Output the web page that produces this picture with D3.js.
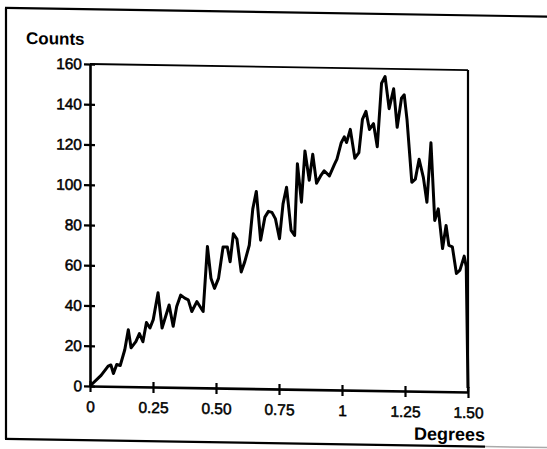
<!DOCTYPE html>
<html>
<head>
<meta charset="utf-8">
<script src="https://cdn.jsdelivr.net/npm/d3@7"></script>
<style>
  html, body { margin: 0; padding: 0; background: #fff; }
  svg { display: block; }
  text { font-family: "Liberation Sans", Arial, Helvetica, sans-serif; fill: #000; }
</style>
</head>
<body>
<svg id="chart" width="547" height="449"></svg>
<script>
// ---- data ----
const degrees = [0, 0.044, 0.072, 0.083, 0.093, 0.106, 0.12, 0.138, 0.152, 0.163, 0.182, 0.196, 0.21, 0.224, 0.238, 0.251, 0.27, 0.286, 0.3, 0.314, 0.33, 0.344, 0.36, 0.376, 0.39, 0.404, 0.424, 0.449, 0.466, 0.48, 0.494, 0.51, 0.528, 0.545, 0.556, 0.569, 0.583, 0.6, 0.614, 0.632, 0.646, 0.66, 0.677, 0.694, 0.708, 0.722, 0.736, 0.752, 0.766, 0.78, 0.798, 0.812, 0.823, 0.839, 0.853, 0.87, 0.884, 0.899, 0.915, 0.929, 0.95, 0.97, 0.98, 0.997, 1.009, 1.018, 1.033, 1.051, 1.067, 1.081, 1.095, 1.109, 1.125, 1.14, 1.157, 1.171, 1.187, 1.205, 1.219, 1.236, 1.247, 1.258, 1.277, 1.291, 1.306, 1.323, 1.337, 1.353, 1.368, 1.382, 1.399, 1.413, 1.424, 1.438, 1.454, 1.468, 1.485, 1.493, 1.5];
const counts = [0, 5.4, 10, 10.6, 6.4, 10.9, 10.4, 18.3, 28.3, 19.3, 22.4, 26.4, 22.4, 32, 29.3, 33.5, 46.9, 29.4, 35.1, 40.9, 30.3, 40.2, 45.9, 44.4, 43.6, 37.8, 42.8, 37.9, 70.3, 54.5, 49.5, 54.5, 70.1, 70.1, 62.8, 76.8, 74.2, 57.9, 62.9, 71.2, 89.3, 98, 73.8, 85.3, 88.2, 87.7, 84.5, 74.7, 92, 100.3, 78.9, 76.4, 112.1, 93, 118.5, 104, 116.9, 102.5, 106.2, 108.8, 106.3, 112.1, 114.7, 122.9, 125.8, 123, 129.6, 115.3, 118.1, 134.6, 138.7, 129.7, 132.6, 121.2, 152.8, 156.1, 140.2, 150.1, 131, 145.5, 147.2, 134.9, 103.8, 105.4, 115.3, 106.2, 94, 123.6, 85, 90.8, 71.1, 82.6, 72.7, 72, 58.8, 60.5, 67.5, 62.2, 2];
const xTicks = [0, 0.25, 0.5, 0.75, 1, 1.25, 1.5];
const xTickLabels = ["0", "0.25", "0.50", "0.75", "1", "1.25", "1.50"];
const yTicks = [0, 20, 40, 60, 80, 100, 120, 140, 160];
const yTitle = "Counts";
const xTitle = "Degrees";

// ---- layout ----
const L = 90, R = 468, T = 64, B = 386;
const skew = 0.016; // slight scan skew of the reference

const svg = d3.select("#chart");
const root = svg.append("g")
  .attr("transform", `matrix(1, ${skew}, 0, 1, 0, ${-L * skew})`);

// outer frame (left, top, bottom)
root.append("line").attr("x1", 6).attr("x2", 6).attr("y1", 9.3).attr("y2", 440.3)
  .attr("stroke", "#000").attr("stroke-width", 2.2);
root.append("line").attr("x1", 5).attr("x2", 560).attr("y1", 9.3).attr("y2", 9.3)
  .attr("stroke", "#000").attr("stroke-width", 2.2);
root.append("line").attr("x1", 5).attr("x2", 485).attr("y1", 440.3).attr("y2", 440.3)
  .attr("stroke", "#000").attr("stroke-width", 2.2);
root.append("line").attr("x1", 485).attr("x2", 560).attr("y1", 440.3).attr("y2", 440.3)
  .attr("stroke", "#aaa").attr("stroke-width", 1.5);

const x = d3.scaleLinear().domain([0, 1.5]).range([L, R]);
const y = d3.scaleLinear().domain([0, 160]).range([B, T]);

// plot box top & right
root.append("line").attr("x1", L).attr("x2", R).attr("y1", T).attr("y2", T)
  .attr("stroke", "#000").attr("stroke-width", 1.8);
root.append("line").attr("x1", R).attr("x2", R).attr("y1", T).attr("y2", B)
  .attr("stroke", "#000").attr("stroke-width", 2.2);

const tickFont = '"Liberation Sans", Arial, sans-serif';

// y axis
const yAxis = root.append("g").attr("transform", `translate(${L},0)`)
  .call(d3.axisLeft(y).tickValues(yTicks).tickSize(5).tickSizeOuter(0).tickPadding(5));
yAxis.select(".domain").attr("stroke-width", 2.6);
yAxis.selectAll(".tick line").attr("x1", 5).attr("x2", -6).attr("stroke-width", 2.2);
yAxis.selectAll(".tick text").attr("x", -8)
  .style("font-size", "15.5px").style("font-family", tickFont)
  .attr("stroke", "#000").attr("stroke-width", 0.5);

// x axis
const xAxis = root.append("g").attr("transform", `translate(0,${B})`)
  .call(d3.axisBottom(x).tickValues(xTicks).tickFormat((d, i) => xTickLabels[i])
    .tickSize(5).tickSizeOuter(0));
xAxis.select(".domain").attr("stroke-width", 2.6);
xAxis.selectAll(".tick line").attr("y1", -5).attr("y2", 6).attr("stroke-width", 2.2);
xAxis.selectAll(".tick text").attr("y", 15)
  .style("font-size", "15.5px").style("font-family", tickFont)
  .attr("stroke", "#000").attr("stroke-width", 0.5);

// data line
const pts = degrees.map((d, i) => [d, counts[i]]);
root.append("path")
  .datum(pts)
  .attr("fill", "none")
  .attr("stroke", "#000")
  .attr("stroke-width", 3)
  .attr("stroke-linejoin", "round")
  .attr("d", d3.line().x(d => x(d[0])).y(d => y(d[1])));

// titles
root.append("text").attr("x", 26).attr("y", 45)
  .style("font-size", "17px").style("font-weight", "bold").text(yTitle);
root.append("text").attr("x", 414).attr("y", 434.5)
  .style("font-size", "18px").style("font-weight", "bold").text(xTitle);
</script>
</body>
</html>
